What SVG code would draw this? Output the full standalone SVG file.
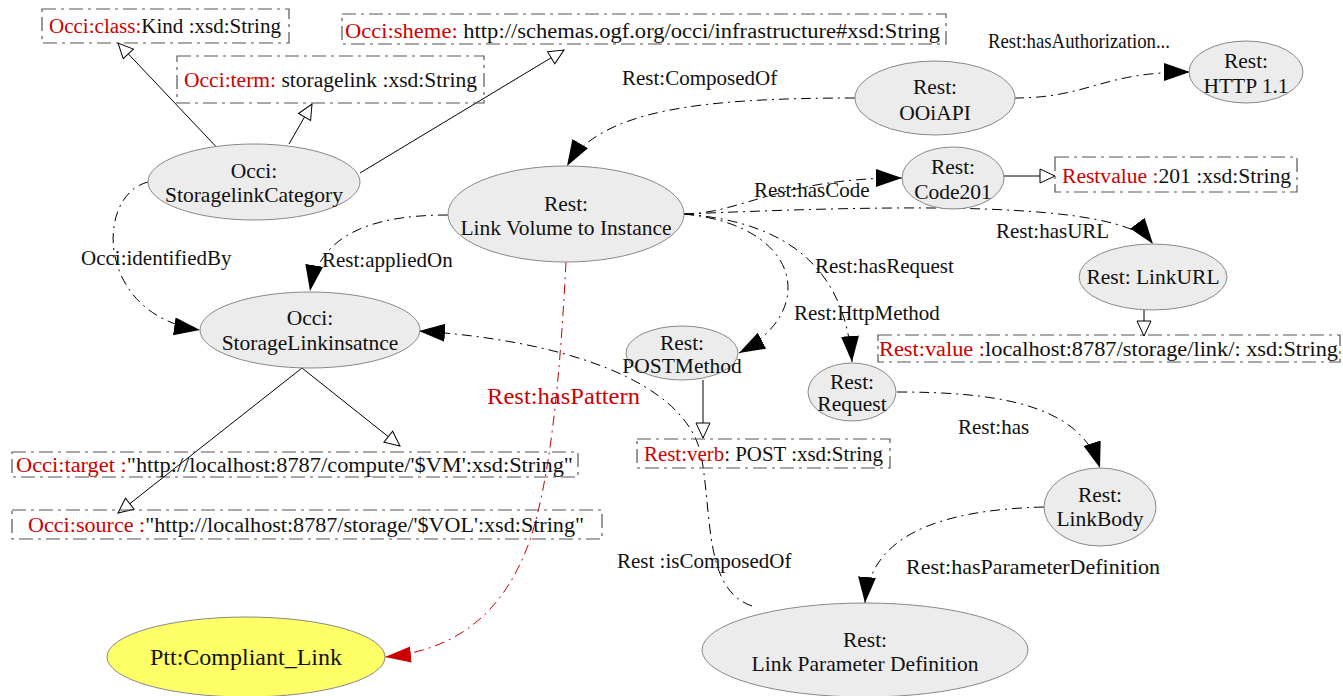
<svg xmlns="http://www.w3.org/2000/svg" width="1343" height="696" viewBox="0 0 1343 696" font-family="Liberation Serif, DejaVu Serif, serif">
<defs>
<style>
text{font-family:Liberation Serif, DejaVu Serif, serif;fill:#111}
.n{font-size:21.5px;text-anchor:middle}
.l{font-size:21px}
.b{font-size:20px}
.r{fill:#cc0000}
.node{fill:#ececec;stroke:#888;stroke-width:1}
.box{fill:none;stroke:#555;stroke-width:1.2;stroke-dasharray:14,5,3,5}
.s{fill:none;stroke:#000;stroke-width:1}
.d{fill:none;stroke:#000;stroke-width:1;stroke-dasharray:10,5,2,5}
.dr{fill:none;stroke:#cc0000;stroke-width:1;stroke-dasharray:10,5,2,5}
</style>
<marker id="fa" markerUnits="userSpaceOnUse" markerWidth="28" markerHeight="20" refX="26" refY="9" orient="auto">
<path d="M0,0 L26,9 L0,18 z" fill="#000"/>
</marker>
<marker id="fr" markerUnits="userSpaceOnUse" markerWidth="28" markerHeight="20" refX="26" refY="9" orient="auto">
<path d="M0,1 L26,9 L0,17 z" fill="#cc0000"/>
</marker>
<marker id="ha" markerUnits="userSpaceOnUse" markerWidth="18" markerHeight="18" refX="16" refY="8" orient="auto">
<path d="M1,1 L16,8 L1,15 z" fill="#fff" stroke="#000" stroke-width="1"/>
</marker>
</defs>

<g id="connectors">
<path class="s" d="M224,155 L118,43" marker-end="url(#ha)"/>
<path class="s" d="M289,144 L312,104" marker-end="url(#ha)"/>
<path class="s" d="M360,173 L564,50" marker-end="url(#ha)"/>
<path class="d" d="M148,182 C95,195 95,315 200,330" marker-end="url(#fa)"/>
<path class="d" d="M448,215 C380,215 320,230 310,291" marker-end="url(#fa)"/>
<path class="d" d="M855,98 C700,98 600,110 567,166" marker-end="url(#fa)"/>
<path class="d" d="M1014,98 C1090,98 1100,72 1190,72" marker-end="url(#fa)"/>
<path class="d" d="M684,214 C740,214 780,178 902,178" marker-end="url(#fa)"/>
<path class="s" d="M1004,176 L1055,176" marker-end="url(#ha)"/>
<path class="d" d="M684,214 C900,205 1120,200 1153,244" marker-end="url(#fa)"/>
<path class="s" d="M1144,310 L1144,336" marker-end="url(#ha)"/>
<path class="d" d="M684,214 C800,225 820,310 739,353" marker-end="url(#fa)"/>
<path class="d" d="M684,214 C790,222 845,270 852,362" marker-end="url(#fa)"/>
<path class="s" d="M703,380 L703,438" marker-end="url(#ha)"/>
<path class="d" d="M897,392 C1000,392 1080,405 1100,468" marker-end="url(#fa)"/>
<path class="d" d="M1044,507 C930,510 870,540 865,603" marker-end="url(#fa)"/>
<path class="d" d="M752,606 C705,590 712,520 702,460 C690,380 560,340 419,331" marker-end="url(#fa)"/>
<path class="s" d="M302,368 L400,446" marker-end="url(#ha)"/>
<path class="s" d="M302,368 L118,513" marker-end="url(#ha)"/>
<path class="dr" d="M566,262 C560,380 550,480 530,540 C505,610 460,650 385,657" marker-end="url(#fr)"/>
<text class="l" x="622" y="85">Rest:ComposedOf</text>
<text class="l" x="988" y="48" textLength="182" lengthAdjust="spacingAndGlyphs">Rest:hasAuthorization...</text>
<text class="l" x="754" y="197">Rest:hasCode</text>
<text class="l" x="996" y="238">Rest:hasURL</text>
<text class="l" x="81" y="265">Occi:identifiedBy</text>
<text class="l" x="322" y="267">Rest:appliedOn</text>
<text class="l" x="815" y="273">Rest:hasRequest</text>
<text class="l" x="794" y="320">Rest:HttpMethod</text>
<text class="l r" x="487" y="404" style="font-size:24px" textLength="153" lengthAdjust="spacingAndGlyphs">Rest:hasPattern</text>
<text class="l" x="958" y="434">Rest:has</text>
<text class="l" x="906" y="574" textLength="254" lengthAdjust="spacingAndGlyphs">Rest:hasParameterDefinition</text>
<text class="l" x="617" y="568">Rest :isComposedOf</text>
</g>

<g id="box-class"><rect class="box" x="42" y="9" width="247" height="34"/>
<text class="b" x="49" y="33" textLength="232" lengthAdjust="spacingAndGlyphs"><tspan class="r">Occi:class:</tspan>Kind :xsd:String</text></g>
<g id="box-sheme"><rect class="box" x="342" y="14" width="604" height="30"/>
<text class="b" x="345" y="38" textLength="595" lengthAdjust="spacingAndGlyphs"><tspan class="r">Occi:sheme:</tspan> http://schemas.ogf.org/occi/infrastructure#xsd:String</text></g>
<g id="box-term"><rect class="box" x="177" y="56" width="307" height="47"/>
<text class="b" x="184" y="87" textLength="293" lengthAdjust="spacingAndGlyphs"><tspan class="r">Occi:term:</tspan> storagelink :xsd:String</text></g>
<g id="box-restvalue"><rect class="box" x="1055" y="157" width="242" height="35"/>
<text class="b" x="1062" y="183" textLength="229" lengthAdjust="spacingAndGlyphs"><tspan class="r">Restvalue :</tspan>201 :xsd:String</text></g>
<g id="box-value"><rect class="box" x="878" y="335" width="462" height="27"/>
<text class="b" x="879" y="356" textLength="459" lengthAdjust="spacingAndGlyphs"><tspan class="r">Rest:value :</tspan>localhost:8787/storage/link/: xsd:String</text></g>
<g id="box-verb"><rect class="box" x="637" y="439" width="253" height="29"/>
<text class="b" x="644" y="461" textLength="239" lengthAdjust="spacingAndGlyphs"><tspan class="r">Rest:verb</tspan>: POST :xsd:String</text></g>
<g id="box-target"><rect class="box" x="12" y="452" width="566" height="25"/>
<text class="b" x="16" y="472" textLength="557" lengthAdjust="spacingAndGlyphs"><tspan class="r">Occi:target :</tspan>"http://localhost:8787/compute/'$VM':xsd:String"</text></g>
<g id="box-source"><rect class="box" x="12" y="510" width="590" height="29"/>
<text class="b" x="28" y="532" textLength="556" lengthAdjust="spacingAndGlyphs"><tspan class="r">Occi:source :</tspan>"http://localhost:8787/storage/'$VOL':xsd:String"</text></g>

<g id="n-category"><ellipse class="node" cx="254" cy="182" rx="106" ry="38"/>
<text class="n" x="254" y="178">Occi:</text><text class="n" x="254" y="202">StoragelinkCategory</text></g>
<g id="n-ooiapi"><ellipse class="node" cx="935" cy="98" rx="80" ry="37"/>
<text class="n" x="935" y="94">Rest:</text><text class="n" x="935" y="120">OOiAPI</text></g>
<g id="n-http"><ellipse class="node" cx="1246" cy="72" rx="57" ry="31"/>
<text class="n" x="1246" y="68">Rest:</text><text class="n" x="1246" y="93">HTTP 1.1</text></g>
<g id="n-code201"><ellipse class="node" cx="953" cy="178" rx="51" ry="31"/>
<text class="n" x="953" y="174">Rest:</text><text class="n" x="953" y="199">Code201</text></g>
<g id="n-linkvolume"><ellipse class="node" cx="566" cy="214" rx="118" ry="48"/>
<text class="n" x="566" y="211">Rest:</text><text class="n" x="566" y="235">Link Volume to Instance</text></g>
<g id="n-storagelinkinstance"><ellipse class="node" cx="310" cy="330" rx="110" ry="38"/>
<text class="n" x="310" y="325">Occi:</text><text class="n" x="310" y="350">StorageLinkinsatnce</text></g>
<g id="n-postmethod"><ellipse class="node" cx="682" cy="353" rx="56" ry="27"/>
<text class="n" x="682" y="350">Rest:</text><text class="n" x="682" y="373">POSTMethod</text></g>
<g id="n-linkurl"><ellipse class="node" cx="1153" cy="277" rx="74" ry="33"/>
<text class="n" x="1153" y="284">Rest: LinkURL</text></g>
<g id="n-request"><ellipse class="node" cx="852" cy="392" rx="44" ry="29"/>
<text class="n" x="852" y="389">Rest:</text><text class="n" x="852" y="411">Request</text></g>
<g id="n-linkbody"><ellipse class="node" cx="1100" cy="507" rx="56" ry="39"/>
<text class="n" x="1100" y="502">Rest:</text><text class="n" x="1100" y="526">LinkBody</text></g>
<g id="n-lpd"><ellipse class="node" cx="865" cy="650" rx="163" ry="47"/>
<text class="n" x="865" y="647">Rest:</text><text class="n" x="865" y="671">Link Parameter Definition</text></g>
<g id="n-ptt"><ellipse cx="246" cy="657" rx="139" ry="40" fill="#ffff66" stroke="#888"/>
<text class="n" x="246" y="665" style="font-size:24px">Ptt:Compliant_Link</text></g>
</svg>
